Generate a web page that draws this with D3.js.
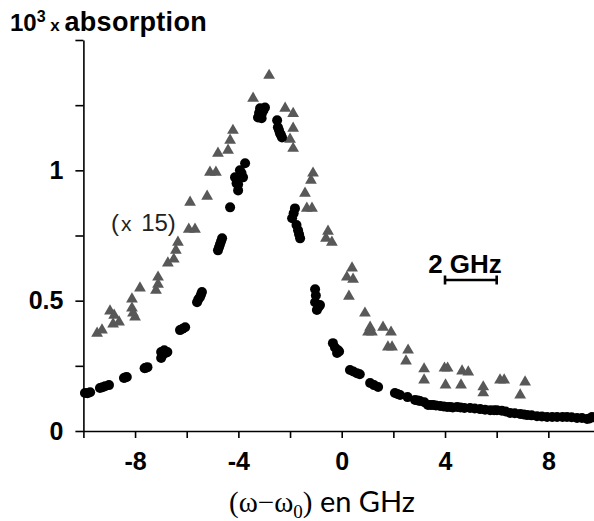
<!DOCTYPE html>
<html><head><meta charset="utf-8">
<script src="https://cdn.jsdelivr.net/npm/d3@7"></script>
<style>body{margin:0;background:#fff}svg{display:block}</style>
</head><body>
<script>
// Data (plotted values; triangles are the x15 curve)
const circleX = [-9.94,-9.84,-9.74,-9.36,-9.26,-9.16,-9.01,-8.43,-8.38,-8.32,-7.63,-7.58,-7.52,-6.99,-6.99,-6.93,-6.87,-6.80,-6.75,-6.26,-6.16,-6.06,-5.60,-5.55,-5.49,-5.45,-5.41,-4.79,-4.75,-4.71,-4.67,-4.63,-4.32,-4.13,-4.07,-4.01,-3.94,-3.88,-3.82,-3.74,-4.01,-3.24,-3.20,-3.16,-3.10,-3.09,-3.03,-2.97,-2.50,-2.47,-2.43,-2.39,-2.35,-2.31,-1.81,-1.86,-1.92,-1.75,-1.69,-1.65,-1.61,-1.03,-1.03,-1.00,-0.90,-0.84,-0.96,-0.34,-0.26,-0.14,-0.10,-0.18,0.32,0.45,0.59,0.70,1.10,1.25,1.41,2.06,2.16,2.26,2.55,2.84,2.95,3.03,3.20,3.34,3.45,3.54,3.65,3.81,3.95,4.08,4.20,4.30,4.47,4.60,4.75,4.97,5.15,5.36,5.55,5.75,5.90,6.01,6.20,6.35,6.52,6.70,6.91,7.05,7.18,7.35,7.56,7.75,7.95,8.15,8.34,8.55,8.72,8.90,9.11,9.30,9.50,9.60,9.69,9.85];
const circleY = [0.146,0.145,0.149,0.165,0.168,0.172,0.176,0.203,0.205,0.207,0.241,0.243,0.245,0.280,0.303,0.292,0.310,0.300,0.303,0.387,0.392,0.398,0.494,0.505,0.513,0.523,0.533,0.693,0.705,0.716,0.728,0.739,0.858,0.973,0.950,0.923,1.0,0.990,0.973,1.027,0.946,1.203,1.220,1.238,1.200,1.218,1.230,1.241,1.192,1.165,1.155,1.142,1.135,1.126,0.854,0.835,0.816,0.790,0.770,0.755,0.739,0.544,0.494,0.520,0.475,0.483,0.464,0.337,0.320,0.310,0.305,0.299,0.234,0.228,0.222,0.218,0.184,0.176,0.169,0.146,0.142,0.138,0.130,0.119,0.117,0.115,0.110,0.100,0.100,0.100,0.098,0.096,0.094,0.092,0.092,0.090,0.092,0.090,0.088,0.088,0.086,0.084,0.082,0.080,0.080,0.080,0.078,0.075,0.069,0.068,0.065,0.063,0.061,0.060,0.057,0.056,0.054,0.054,0.054,0.054,0.054,0.053,0.050,0.050,0.046,0.048,0.054,0.050];
const triX = [-9.47,-9.28,-8.97,-8.81,-8.85,-8.62,-8.12,-8.12,-8.08,-8.00,-7.81,-7.19,-7.11,-7.11,-6.73,-6.50,-6.42,-6.34,-5.92,-5.68,-5.87,-5.21,-5.10,-4.87,-4.79,-4.40,-4.32,-4.21,-3.43,-2.81,-2.19,-1.88,-1.88,-2.00,-1.88,-1.11,-1.19,-1.42,-1.35,-1.15,-0.53,-0.61,-0.38,0.40,0.20,0.44,0.28,0.90,1.10,1.02,1.17,1.60,1.91,1.79,1.95,2.57,2.49,3.19,3.19,3.98,4.10,4.02,4.66,4.90,4.62,5.48,5.48,6.13,6.29,6.91,7.10];
const triY = [0.375,0.387,0.460,0.444,0.410,0.418,0.506,0.471,0.452,0.437,0.548,0.540,0.563,0.590,0.644,0.659,0.693,0.724,0.774,0.774,0.877,0.900,0.992,0.992,1.065,1.077,1.115,1.153,1.276,1.364,1.238,1.218,1.161,1.119,1.084,0.989,0.962,0.912,0.854,0.854,0.766,0.739,0.724,0.625,0.590,0.582,0.517,0.452,0.398,0.379,0.379,0.398,0.379,0.322,0.322,0.310,0.268,0.238,0.195,0.241,0.241,0.176,0.230,0.226,0.176,0.169,0.146,0.195,0.195,0.138,0.188];
const xTicks = [-10,-8,-6,-4,-2,0,2,4,6,8,10];
const xLabels = [-8,-4,0,4,8];
const yTicks = [0,0.25,0.5,0.75,1,1.25,1.5];
const yLabels = [0,0.5,1];
const scaleBar = [4,6];

const W = 594, H = 521;
const svg = d3.select("body").append("svg").attr("width", W).attr("height", H);
svg.append("rect").attr("width", W).attr("height", H).attr("fill", "#fff");

const x = d3.scaleLinear().domain([-10, 10]).range([83.4, 600.0]);
const y = d3.scaleLinear().domain([0, 1.5]).range([431, 40]);
const font = "'Liberation Sans', Arial, sans-serif";

// axes
const xAxis = svg.append("g").attr("transform", `translate(0,${y(0)})`)
  .call(d3.axisBottom(x).tickValues(xTicks).tickSize(7).tickSizeOuter(0).tickPadding(14)
    .tickFormat(d => xLabels.includes(d) ? String(d) : ""));
const yAxis = svg.append("g").attr("transform", `translate(${x(-10)},0)`)
  .call(d3.axisLeft(y).tickValues(yTicks).tickSize(8).tickSizeOuter(0).tickPadding(12)
    .tickFormat(d => yLabels.includes(d) ? String(d) : ""));
[xAxis, yAxis].forEach(g => {
  g.selectAll("path, line").attr("stroke", "#000").attr("stroke-width", 1.6);
  g.selectAll("text").attr("fill", "#000").style("font-family", font)
    .style("font-size", "25px").style("font-weight", "bold");
});

// series
const circles = circleX.map((v, i) => [v, circleY[i]]);
const tris = triX.map((v, i) => [v, triY[i]]);
svg.append("g").selectAll("path").data(tris).join("path")
  .attr("d", d3.symbol().type(d3.symbolTriangle).size(60))
  .attr("transform", d => `translate(${x(d[0])},${y(d[1])})`)
  .attr("fill", "#585858");
svg.append("g").selectAll("circle").data(circles).join("circle")
  .attr("cx", d => x(d[0])).attr("cy", d => y(d[1])).attr("r", 5)
  .attr("fill", "#000");

// title
const t = svg.append("text").attr("x", 10).attr("y", 31).attr("fill", "#000")
  .style("font-family", font).style("font-weight", "bold");
t.append("tspan").text("10").style("font-size", "24px");
t.append("tspan").text("3").style("font-size", "16px").attr("dy", -9);
t.append("tspan").text(" x ").style("font-size", "17px").attr("dy", 9);
t.append("tspan").text("absorption").style("font-size", "27px").style("letter-spacing", "0.3px");

// annotation (x 15)
const a = svg.append("text").attr("x", 111).attr("y", 231).attr("fill", "#222")
  .style("font-family", font).style("font-size", "24px");
a.append("tspan").text("(");
a.append("tspan").text("x").style("font-size", "21px").attr("dx", 2);
a.append("tspan").text(" 15)").attr("dx", 3);

// scale bar
const sb = svg.append("g").attr("stroke", "#000").attr("stroke-width", 2.6);
const sy = 280;
sb.append("line").attr("x1", x(scaleBar[0])).attr("x2", x(scaleBar[1])).attr("y1", sy).attr("y2", sy);
scaleBar.forEach(v => sb.append("line").attr("x1", x(v)).attr("x2", x(v)).attr("y1", sy - 4.5).attr("y2", sy + 4.5));
svg.append("text").attr("x", 465).attr("y", 273).attr("text-anchor", "middle")
  .style("font-family", font).style("font-size", "26px").style("font-weight", "bold")
  .text("2 GHz");

// x axis title
const serif = "'Liberation Serif', serif";
const xt = svg.append("text").attr("x", 322).attr("y", 512).attr("text-anchor", "middle").attr("fill", "#000");
xt.append("tspan").text("(ω−ω").style("font-family", serif).style("font-size", "29px");
xt.append("tspan").text("0").style("font-family", serif).style("font-size", "19px").attr("dy", 6);
xt.append("tspan").text(")").style("font-family", serif).style("font-size", "29px").attr("dy", -6);
xt.append("tspan").text(" en GHz").style("font-family", "Lato, 'Open Sans', sans-serif").style("font-size", "29px");
</script>
</body></html>
